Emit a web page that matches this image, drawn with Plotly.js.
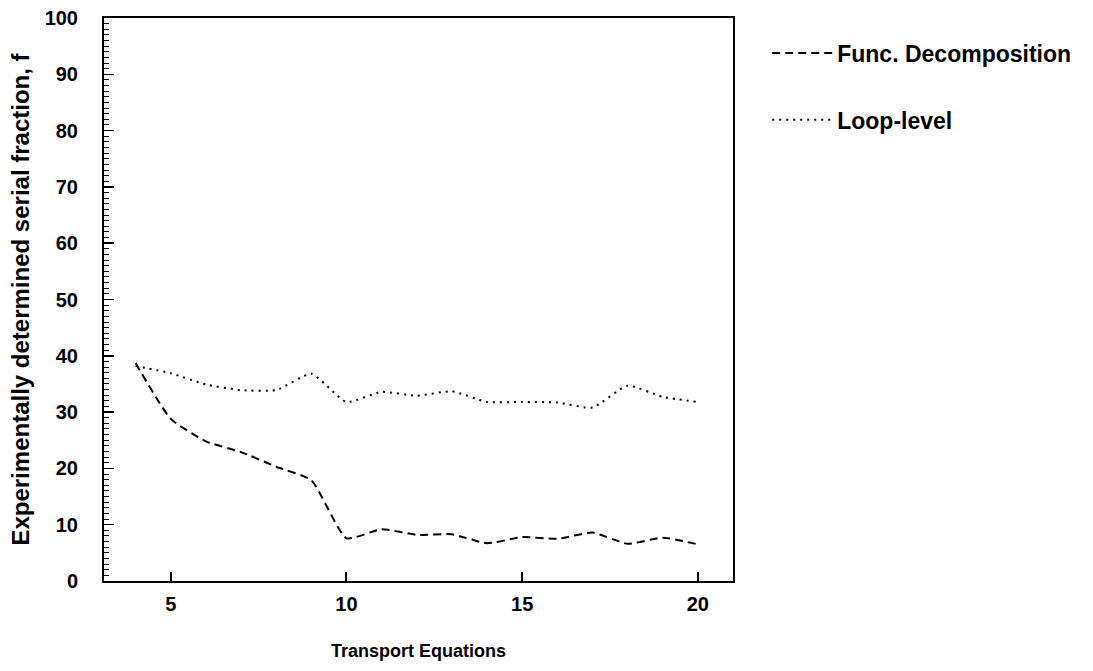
<!DOCTYPE html>
<html>
<head>
<meta charset="utf-8">
<script src="https://cdn.plot.ly/plotly-3.0.1.min.js"></script>
<style>html,body{margin:0;padding:0;background:#fff}#chart{width:1093px;height:671px}</style>
</head>
<body>
<div id="chart"></div>
<script>
const equations = [4, 5, 6, 7, 8, 9, 10, 11, 12, 13, 14, 15, 16, 17, 18, 19, 20];
const funcDecomposition = [38.7, 28.8, 24.8, 22.9, 20.3, 17.9, 7.6, 9.2, 8.2, 8.3, 6.7, 7.8, 7.5, 8.6, 6.6, 7.7, 6.5];
const loopLevel = [38.2, 36.9, 34.9, 33.9, 33.9, 36.8, 31.8, 33.6, 32.9, 33.7, 31.8, 31.8, 31.7, 30.8, 34.7, 32.7, 31.8];
const xTicks = [5, 10, 15, 20];
const yTicks = [0, 10, 20, 30, 40, 50, 60, 70, 80, 90, 100];

const font = 'Liberation Sans, Arial, sans-serif';

const traces = [
  {
    x: equations, y: funcDecomposition, name: 'Func. Decomposition',
    mode: 'lines', legendgroup: 'a',
    line: {color: '#000', width: 2, dash: '8px,5px', shape: 'spline', smoothing: 0.5}
  },
  {
    x: equations, y: loopLevel, name: 'Loop-level',
    mode: 'lines', legendgroup: 'b',
    line: {color: '#000', width: 2, dash: '2px,5px', shape: 'spline', smoothing: 0.5}
  }
];

const layout = {
  width: 1093, height: 671,
  margin: {l: 104, r: 360, t: 18, b: 90},
  paper_bgcolor: '#fff', plot_bgcolor: '#fff',
  font: {family: font, color: '#000', size: 16, weight: 'bold'},
  showlegend: true,
  legend: {
    x: 1.0544, y: 0.976, xanchor: 'left', yanchor: 'top',
    font: {family: font, size: 23, color: '#000', weight: 'bold'},
    tracegroupgap: 34, bgcolor: 'rgba(0,0,0,0)', borderwidth: 0,
    itemwidth: 60
  },
  xaxis: {
    range: [3.1, 21], tickvals: xTicks, ticktext: xTicks.map(String),
    ticks: 'inside', ticklen: 9, tickwidth: 2, tickcolor: '#000',
    showline: true, linecolor: '#000', linewidth: 2, mirror: true,
    showgrid: false, zeroline: false,
    tickfont: {family: font, size: 20, weight: 'bold'},
    ticklabelstandoff: 4,
    title: {text: 'Transport Equations', font: {family: font, size: 18, weight: 'bold'}, standoff: 30}
  },
  yaxis: {
    range: [0, 100], tickvals: yTicks, ticktext: yTicks.map(String),
    ticks: 'inside', ticklen: 10, tickwidth: 1.5, tickcolor: '#000',
    minor: {dtick: 1, ticks: 'inside', ticklen: 5, tickwidth: 1, tickcolor: '#000', showgrid: false},
    showline: true, linecolor: '#000', linewidth: 2, mirror: true,
    showgrid: false, zeroline: false,
    tickfont: {family: font, size: 20, weight: 'bold'},
    ticklabelstandoff: 20,
    title: {text: 'Experimentally determined serial fraction, f', font: {family: font, size: 24, weight: 'bold'}, standoff: 8}
  }
};

Plotly.newPlot('chart', traces, layout, {displayModeBar: false, staticPlot: true});
</script>
</body>
</html>
